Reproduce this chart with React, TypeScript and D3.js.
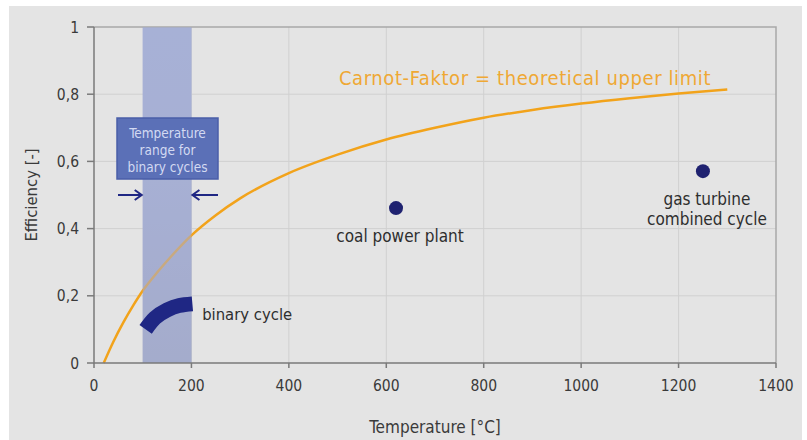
import { useEffect, useRef } from "react";
import * as d3 from "d3";

// Carnot curve
const carnotT = [20, 40, 60, 80, 100, 130, 160, 200, 250, 300, 400, 500, 600, 700, 800, 900, 1000, 1100, 1200, 1300];
const carnotEta = [0, 0.064, 0.12, 0.17, 0.215, 0.27, 0.32, 0.38, 0.44, 0.49, 0.565, 0.62, 0.665, 0.7, 0.73, 0.753, 0.772, 0.788, 0.802, 0.814];

// binary cycle band (centre line)
const binaryT = [106, 125, 150, 175, 202];
const binaryEta = [0.1, 0.134, 0.158, 0.171, 0.176];

const plants = ["coal power plant", "gas turbine|combined cycle"];
const plantT = [620, 1250];
const plantEta = [0.461, 0.571];

const xTicks = [0, 200, 400, 600, 800, 1000, 1200, 1400];
const yTicks = [0, 0.2, 0.4, 0.6, 0.8, 1];
const bandRange = [100, 200];

const FONT = "'DejaVu Sans Condensed', 'DejaVu Sans', sans-serif";

export default function App() {
  const ref = useRef<SVGSVGElement | null>(null);

  useEffect(() => {
    const svg = d3.select(ref.current);
    svg.selectAll("*").remove();

    const W = 807;
    const H = 440;
    const m = { left: 94, right: W - 776, top: 27, bottom: H - 363 };

    const x = d3.scaleLinear().domain([0, 1400]).range([m.left, W - m.right]);
    const y = d3.scaleLinear().domain([0, 1]).range([H - m.bottom, m.top]);

    svg.append("rect").attr("width", W).attr("height", H).attr("fill", "#fff");
    svg.append("rect").attr("x", 9).attr("y", 6).attr("width", 793).attr("height", 434).attr("fill", "#e4e4e4");

    const defs = svg.append("defs");
    const grad = defs
      .append("linearGradient")
      .attr("id", "bandGrad")
      .attr("x1", 0)
      .attr("y1", 0)
      .attr("x2", 0)
      .attr("y2", 1);
    grad.append("stop").attr("offset", "0%").attr("stop-color", "#a9b3dc");
    grad.append("stop").attr("offset", "45%").attr("stop-color", "#a8b1d6");
    grad.append("stop").attr("offset", "100%").attr("stop-color", "#a3a8c5");

    // grid
    svg
      .append("g")
      .selectAll("line")
      .data(xTicks.slice(1, -1))
      .join("line")
      .attr("x1", (d) => x(d))
      .attr("x2", (d) => x(d))
      .attr("y1", y(1))
      .attr("y2", y(0))
      .attr("stroke", "#d0d0d0")
      .attr("stroke-width", 1);
    svg
      .append("g")
      .selectAll("line")
      .data(yTicks.slice(1, -1))
      .join("line")
      .attr("x1", x(0))
      .attr("x2", x(1400))
      .attr("y1", (d) => y(d))
      .attr("y2", (d) => y(d))
      .attr("stroke", "#d0d0d0")
      .attr("stroke-width", 1);

    // band
    svg
      .append("rect")
      .attr("x", x(bandRange[0]))
      .attr("y", y(1))
      .attr("width", x(bandRange[1]) - x(bandRange[0]))
      .attr("height", y(0) - y(1))
      .attr("fill", "url(#bandGrad)");

    // frame
    svg
      .append("path")
      .attr("d", `M${x(0)},${y(1)}H${x(1400)}V${y(0)}`)
      .attr("fill", "none")
      .attr("stroke", "#a8a8a8")
      .attr("stroke-width", 1.5);

    // carnot curve
    const line = d3
      .line<number>()
      .x((_, i) => x(carnotT[i]))
      .y((d) => y(d))
      .curve(d3.curveMonotoneX);
    svg
      .append("path")
      .attr("d", line(carnotEta) as string)
      .attr("fill", "none")
      .attr("stroke", "#f2a31b")
      .attr("stroke-width", 2.5);
    // dimmed part behind band
    svg
      .append("rect")
      .attr("x", x(bandRange[0]))
      .attr("y", y(1))
      .attr("width", x(bandRange[1]) - x(bandRange[0]))
      .attr("height", y(0) - y(1))
      .attr("fill", "#a6aed2")
      .attr("opacity", 0.55);

    // axes
    svg
      .append("path")
      .attr("d", `M${x(0)},${y(1)}V${y(0)}H${x(1400)}`)
      .attr("fill", "none")
      .attr("stroke", "#7a7a7a")
      .attr("stroke-width", 1.5);

    svg
      .append("g")
      .selectAll("line")
      .data(yTicks)
      .join("line")
      .attr("x1", x(0) - 7)
      .attr("x2", x(0))
      .attr("y1", (d) => y(d))
      .attr("y2", (d) => y(d))
      .attr("stroke", "#7a7a7a")
      .attr("stroke-width", 1.5);
    svg
      .append("g")
      .selectAll("line")
      .data(xTicks)
      .join("line")
      .attr("x1", (d) => x(d))
      .attr("x2", (d) => x(d))
      .attr("y1", y(0))
      .attr("y2", y(0) + 5)
      .attr("stroke", "#7a7a7a")
      .attr("stroke-width", 1.5);

    const fmt = (d: number) => (d === 0 || d === 1 ? String(d) : d.toFixed(1).replace(".", ","));
    svg
      .append("g")
      .selectAll("text")
      .data(yTicks)
      .join("text")
      .attr("x", x(0) - 15)
      .attr("y", (d) => y(d) + 5.5)
      .attr("text-anchor", "end")
      .attr("font-family", FONT)
      .attr("font-size", 15.5)
      .attr("fill", "#3a3a3a")
      .text(fmt);
    svg
      .append("g")
      .selectAll("text")
      .data(xTicks)
      .join("text")
      .attr("x", (d) => x(d))
      .attr("y", y(0) + 28)
      .attr("text-anchor", "middle")
      .attr("font-family", FONT)
      .attr("font-size", 15.5)
      .attr("fill", "#3a3a3a")
      .text((d) => String(d));

    svg
      .append("text")
      .attr("transform", `translate(37,${(y(0) + y(1)) / 2}) rotate(-90)`)
      .attr("text-anchor", "middle")
      .attr("font-family", FONT)
      .attr("font-size", 16.5)
      .attr("fill", "#3a3a3a")
      .text("Efficiency [-]");
    svg
      .append("text")
      .attr("x", (x(0) + x(1400)) / 2)
      .attr("y", 433)
      .attr("text-anchor", "middle")
      .attr("font-family", FONT)
      .attr("font-size", 17)
      .attr("fill", "#3a3a3a")
      .text("Temperature [°C]");

    // binary cycle band
    const bline = d3
      .line<number>()
      .x((_, i) => x(binaryT[i]))
      .y((d) => y(d))
      .curve(d3.curveNatural);
    svg
      .append("path")
      .attr("d", bline(binaryEta) as string)
      .attr("fill", "none")
      .attr("stroke", "#1f2784")
      .attr("stroke-width", 15)
      .attr("stroke-linecap", "butt");
    svg
      .append("text")
      .attr("x", x(222))
      .attr("y", y(0.145) + 6)
      .attr("font-family", FONT)
      .attr("font-size", 16.5)
      .attr("fill", "#2e2e2e")
      .text("binary cycle");

    // legend box
    const bx = 117;
    const by = 118;
    svg
      .append("rect")
      .attr("x", bx)
      .attr("y", by)
      .attr("width", 101)
      .attr("height", 61)
      .attr("fill", "#5b70b7")
      .attr("stroke", "#4a5ea8")
      .attr("stroke-width", 1.5);
    ["Temperature", "range for", "binary cycles"].forEach((t, i) => {
      svg
        .append("text")
        .attr("x", bx + 50.5)
        .attr("y", by + 20 + i * 17)
        .attr("text-anchor", "middle")
        .attr("font-family", FONT)
        .attr("font-size", 13.5)
        .attr("fill", "#d3daf2")
        .text(t);
    });

    // arrows
    const ay = y(0.5);
    const arrow = (x1: number, x2: number) => {
      const dir = Math.sign(x2 - x1);
      svg
        .append("line")
        .attr("x1", x1)
        .attr("x2", x2)
        .attr("y1", ay)
        .attr("y2", ay)
        .attr("stroke", "#1f2784")
        .attr("stroke-width", 2);
      svg
        .append("path")
        .attr("d", `M${x2 - dir * 7},${ay - 5}L${x2},${ay}L${x2 - dir * 7},${ay + 5}`)
        .attr("fill", "none")
        .attr("stroke", "#1f2784")
        .attr("stroke-width", 2);
    };
    arrow(118, x(bandRange[0]) - 1);
    arrow(218, x(bandRange[1]) + 1);

    // plant points
    plants.forEach((name, i) => {
      const cx = x(plantT[i]);
      const cy = y(plantEta[i]);
      svg.append("circle").attr("cx", cx).attr("cy", cy).attr("r", 7).attr("fill", "#1f2270");
      name.split("|").forEach((t, j) => {
        svg
          .append("text")
          .attr("x", cx + 4)
          .attr("y", cy + 34 + j * 20)
          .attr("text-anchor", "middle")
          .attr("font-family", FONT)
          .attr("font-size", 17)
          .attr("fill", "#2e2e2e")
          .text(t);
      });
    });

    // carnot label
    svg
      .append("text")
      .attr("x", 525)
      .attr("y", 85)
      .attr("text-anchor", "middle")
      .attr("font-family", FONT)
      .attr("font-size", 20)
      .attr("letter-spacing", 0.6)
      .attr("fill", "#efa834")
      .text("Carnot-Faktor = theoretical upper limit");
  }, []);

  return (
    <div style={{ position: "absolute", left: 0, top: 0 }}>
      <svg ref={ref} width={807} height={440} style={{ display: "block" }} />
    </div>
  );
}
